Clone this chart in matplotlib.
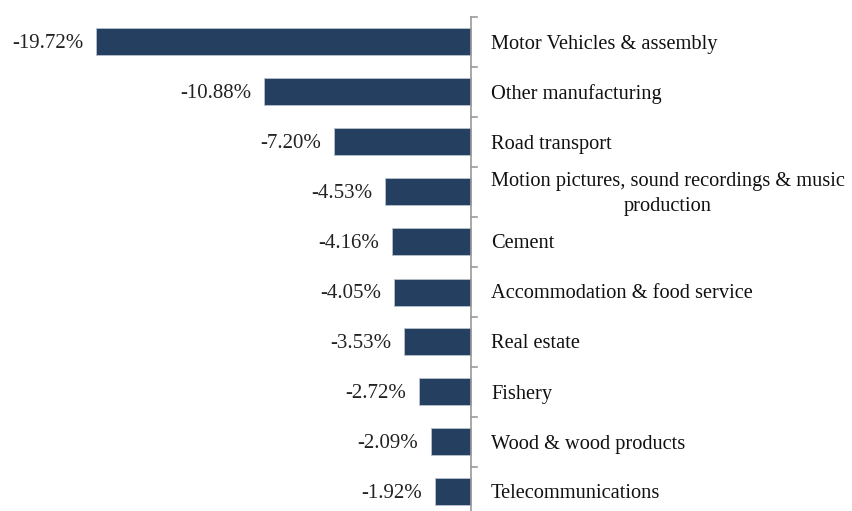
import matplotlib.pyplot as plt
from matplotlib.transforms import offset_copy

sectors = [
    'Motor Vehicles & assembly',
    'Other manufacturing',
    'Road transport',
    'Motion pictures, sound recordings & music\nproduction',
    'Cement',
    'Accommodation & food service',
    'Real estate',
    'Fishery',
    'Wood & wood products',
    'Telecommunications',
]
changes = [-19.72, -10.88, -7.20, -4.53, -4.16, -4.05, -3.53, -2.72, -2.09, -1.92]

plt.rcParams['font.family'] = ['Liberation Serif', 'DejaVu Serif']

fig = plt.figure(figsize=(8.53, 5.11), dpi=100)
ax = fig.add_axes([0, 0, 1, 1])

pos = list(range(len(sectors)))
ax.barh(pos, changes, height=0.54, color='#243f60', edgecolor='#b8c2ce', linewidth=0.6)

ax.set_xlim(-24.77, 20.08)
ax.set_ylim(9.38, -0.84)

# value labels sit just left of each bar, sector names right of the axis
for p, v, name in zip(pos, changes, sectors):
    ax.text(v, p, f'{v:.2f}%', ha='right', va='center', fontsize=15,
            color='#222222',
            transform=offset_copy(ax.transData, fig=fig, x=-13, y=-2, units='dots'))
    ax.text(0, p, name, ha='left', va='center', fontsize=14.7,
            multialignment='center', linespacing=1.4, color='#111111',
            transform=offset_copy(ax.transData, fig=fig, x=20, y=-2, units='dots'))

# vertical axis with small category separators
ax.axis('off')
ax.plot([0, 0], [-0.5, 9.6], color='#9a9a9a', lw=1.2, clip_on=True)
for b in [i - 0.5 for i in range(len(sectors) + 1)]:
    ax.plot([0, 0.3], [b, b], color='#9a9a9a', lw=1.2)

fig.savefig('out.png', dpi=100)
